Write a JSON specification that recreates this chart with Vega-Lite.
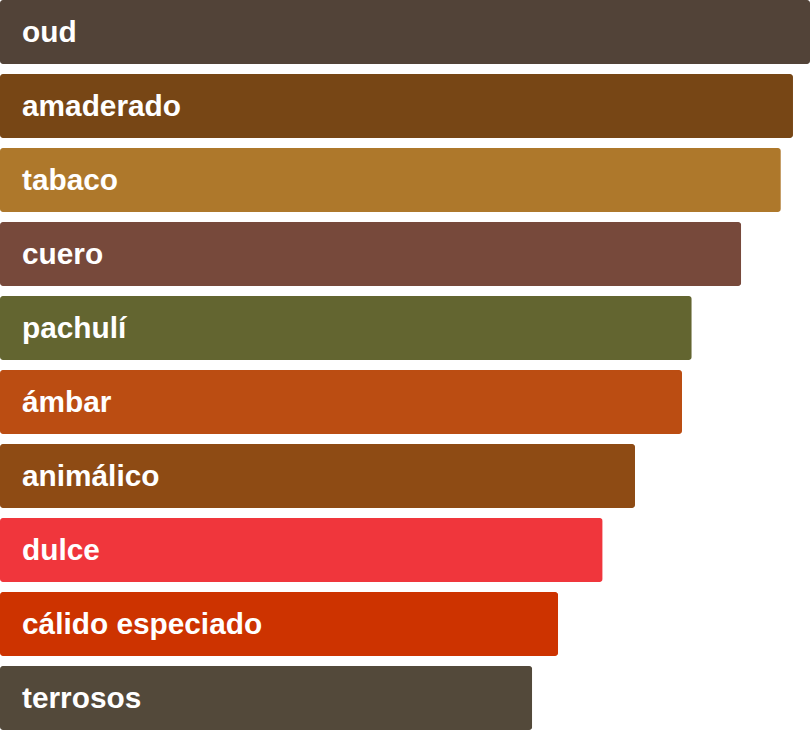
{
  "$schema": "https://vega.github.io/schema/vega-lite/v6.json",
  "autosize": {"type": "fit", "contains": "padding"},
  "width": 810,
  "height": 730,
  "padding": 0,
  "background": "#ffffff",
  "data": {
    "values": [
      {"acorde": "oud", "valor": 100, "color": "#524338"},
      {"acorde": "amaderado", "valor": 97.9, "color": "#774615"},
      {"acorde": "tabaco", "valor": 96.4, "color": "#ae782b"},
      {"acorde": "cuero", "valor": 91.5, "color": "#77493b"},
      {"acorde": "pachulí", "valor": 85.4, "color": "#636530"},
      {"acorde": "ámbar", "valor": 84.2, "color": "#bb4d12"},
      {"acorde": "animálico", "valor": 78.4, "color": "#8e4b14"},
      {"acorde": "dulce", "valor": 74.4, "color": "#f0363c"},
      {"acorde": "cálido especiado", "valor": 68.9, "color": "#cd3300"},
      {"acorde": "terrosos", "valor": 65.7, "color": "#53493a"}
    ]
  },
  "encoding": {
    "y": {"field": "acorde", "type": "nominal", "sort": null, "axis": null,
          "scale": {"paddingInner": 0.135, "paddingOuter": 0}}
  },
  "layer": [
    {
      "mark": {"type": "bar", "cornerRadius": 3},
      "encoding": {
        "x": {"field": "valor", "type": "quantitative", "axis": null,
              "scale": {"domain": [0, 100], "nice": false}},
        "color": {"field": "color", "type": "nominal", "scale": null, "legend": null}
      }
    },
    {
      "mark": {"type": "text", "align": "left", "baseline": "middle", "dx": 22, "dy": 1,
               "font": "Liberation Sans", "fontWeight": "bold", "fontSize": 29.8, "color": "#ffffff"},
      "encoding": {
        "x": {"datum": 0, "type": "quantitative"},
        "text": {"field": "acorde"}
      }
    }
  ],
  "config": {"view": {"stroke": null}}
}
